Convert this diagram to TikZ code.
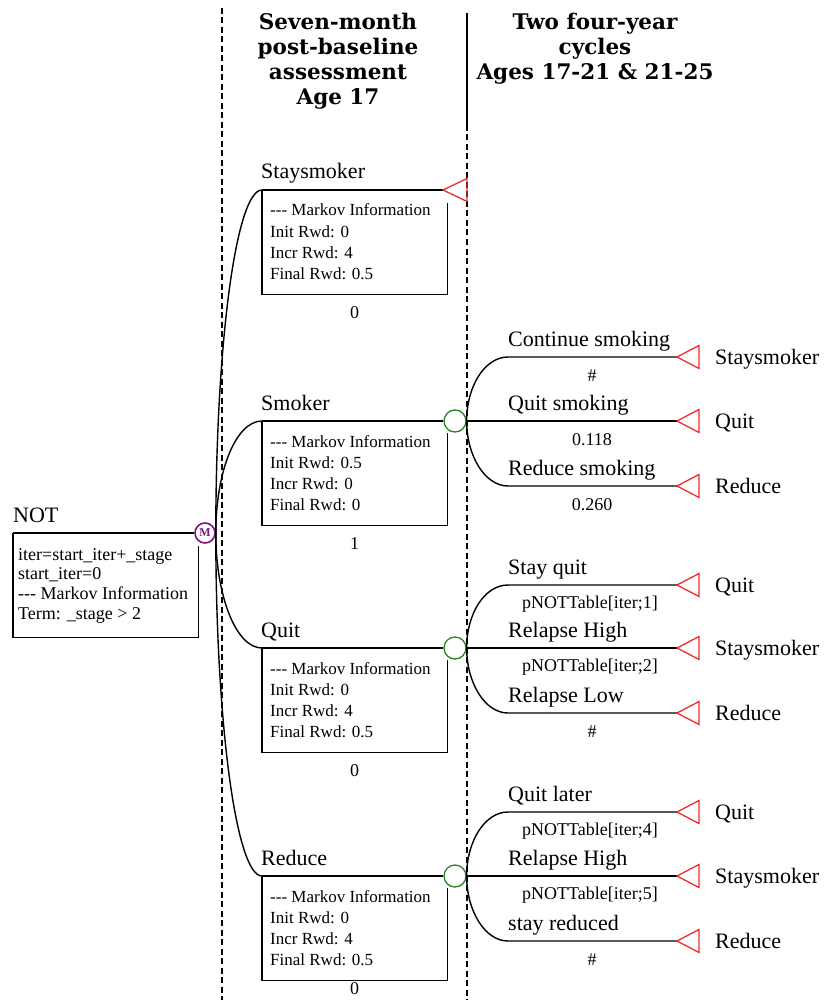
\documentclass[tikz,border=0pt]{standalone}
\usepackage{fontspec}
\setmainfont{Liberation Serif}
\newfontfamily\headserif{DejaVu Serif}
\usetikzlibrary{
positioning
}

\definecolor{markovpurple}{RGB}{125,20,130}
\definecolor{chancegreen}{RGB}{40,130,40}
\definecolor{termred}{RGB}{235,45,45}

\newcommand\hdrfont{\headserif\bfseries\fontsize{21.5}{24.7}\selectfont}
\newcommand\lblfont{\fontsize{22}{26}\selectfont}
\newcommand\infofont{\fontsize{17}{21.3}\selectfont}
\newcommand\notfont{\fontsize{18}{19.8}\selectfont}
\newcommand\probfont{\fontsize{18}{21}\selectfont}
\newcommand\tripledash{-{}-{}-}

\begin{document}
\begin{tikzpicture}[
    x=1pt, y=-1pt,
    branch/.style={draw, line width=1.4pt},
    divider/.style={draw, line width=1.2pt, dash pattern=on 6pt off 3.5pt},
    head/.style={font=\hdrfont, anchor=base, inner sep=0},
    lbl/.style={font=\lblfont, anchor=base west, inner sep=0},
    info/.style={font=\infofont, anchor=base west, inner sep=0},
    prob/.style={font=\probfont, inner sep=0},
    mbox/.style={minimum width=185pt, minimum height=104pt, anchor=north west, inner sep=0},
    markov/.style={draw=markovpurple, circle, minimum size=20pt, inner sep=0,
      line width=1.6pt, fill=white, text=markovpurple, font=\fontsize{12}{12}\selectfont\bfseries},
    chance/.style={draw=chancegreen, circle, minimum size=22pt, inner sep=0,
      line width=1.3pt, fill=white},
    term/.style={draw=termred, line width=1.3pt}]
  \useasboundingbox (0,0) rectangle (835,1000);

  % column headers and dividers
  \node[head] (H1) at (338,30) {\begin{tabular}[t]{@{}c@{}}Seven-month\\post-baseline\\assessment\\Age 17\end{tabular}};
  \node[head] (H2) at (595,30) {\begin{tabular}[t]{@{}c@{}}Two four-year\\cycles\\Ages 17-21 \& 21-25\end{tabular}};
  \draw[divider] (222,8) -- (222,1000);
  \draw[branch, line width=1.2pt] (467,13) -- (467,125);
  \draw[divider] (467,125) -- (467,1000);

  % root
  \node[markov] (M) at (205,533) {M};
  \coordinate (N0) at (13,533);
  \node[lbl] (NOT) at (13,522) {NOT};
  \node[mbox] (B0) at (N0) {};
  \draw[branch] (N0) |- (B0.south east) -- ([yshift=-13pt]B0.north east);
  \draw[branch] (N0) -- (M);
  \node[info, font=\notfont] (I0) at (18,560) {\begin{tabular}[t]{@{}l@{}}iter=start\_iter+\_stage\\start\_iter=0\\ \tripledash{} Markov Information\\Term: \_stage > 2\end{tabular}};

  % markov states
  \coordinate (b1) at (262,190);
  \coordinate (b2) at (262,421);
  \coordinate (b3) at (262,648);
  \coordinate (b4) at (262,876);
  \draw[branch] (M.east) .. controls +(0,-189) and +(-26,0) .. (b1);
  \draw[branch] (M.east) .. controls +(0,-62) and +(-26,0) .. (b2);
  \draw[branch] (M.east) .. controls +(0,63) and +(-26,0) .. (b3);
  \draw[branch] (M.east) .. controls +(0,189) and +(-26,0) .. (b4);

  \node[mbox] (B1) at (b1) {};
  \node[mbox] (B2) at (b2) {};
  \node[mbox] (B3) at (b3) {};
  \node[mbox] (B4) at (b4) {};
  \draw[branch] (b1) |- (B1.south east) -- ([yshift=-13pt]B1.north east);
  \draw[branch] (b2) |- (B2.south east) -- ([yshift=-12pt]B2.north east);
  \draw[branch] (b3) |- (B3.south east) -- ([yshift=-12pt]B3.north east);
  \draw[branch] (b4) |- (B4.south east) -- ([yshift=-12pt]B4.north east);

  \node[lbl] (L1) at ([xshift=-1pt, yshift=11pt]b1) {Staysmoker};
  \node[lbl] (L2) at ([xshift=-1pt, yshift=11pt]b2) {Smoker};
  \node[lbl] (L3) at ([xshift=-1pt, yshift=11pt]b3) {Quit};
  \node[lbl] (L4) at ([xshift=-1pt, yshift=11pt]b4) {Reduce};

  \node[info] (I1) at ([xshift=8pt, yshift=-26pt]b1) {\begin{tabular}[t]{@{}l@{}}\tripledash{} Markov Information\\Init Rwd: 0\\Incr Rwd: 4\\Final Rwd: 0.5\end{tabular}};
  \node[info] (I2) at ([xshift=8pt, yshift=-26pt]b2) {\begin{tabular}[t]{@{}l@{}}\tripledash{} Markov Information\\Init Rwd: 0.5\\Incr Rwd: 0\\Final Rwd: 0\end{tabular}};
  \node[info] (I3) at ([xshift=8pt, yshift=-26pt]b3) {\begin{tabular}[t]{@{}l@{}}\tripledash{} Markov Information\\Init Rwd: 0\\Incr Rwd: 4\\Final Rwd: 0.5\end{tabular}};
  \node[info] (I4) at ([xshift=8pt, yshift=-26pt]b4) {\begin{tabular}[t]{@{}l@{}}\tripledash{} Markov Information\\Init Rwd: 0\\Incr Rwd: 4\\Final Rwd: 0.5\end{tabular}};

  \node[prob, below=12pt of B1] (V1) {0};
  \node[prob, below=12pt of B2] (V2) {1};
  \node[prob, below=12pt of B3] (V3) {0};
  \node[prob, below=2pt of B4] (V4) {0};

  % staysmoker ends here
  \coordinate (T1) at (443,190);
  \draw[branch] (b1) -- (T1);
  \draw[term] (T1) -- ++(24,-11.5) -- ++(0,23) -- cycle;

  % chance nodes
  \node[chance] (C2) at (455,421) {};
  \node[chance] (C3) at (455,648) {};
  \node[chance] (C4) at (455,876) {};
  \draw[branch] (b2) -- (C2);
  \draw[branch] (b3) -- (C3);
  \draw[branch] (b4) -- (C4);

  \coordinate (c21) at (508,357);
  \coordinate (c23) at (508,486);
  \coordinate (c31) at (508,585);
  \coordinate (c33) at (508,713);
  \coordinate (c41) at (508,812);
  \coordinate (c43) at (508,941);
  \coordinate (T21) at (677,357);
  \coordinate (T22) at (677,421);
  \coordinate (T23) at (677,486);
  \coordinate (T31) at (677,585);
  \coordinate (T32) at (677,648);
  \coordinate (T33) at (677,713);
  \coordinate (T41) at (677,812);
  \coordinate (T42) at (677,876);
  \coordinate (T43) at (677,941);

  \draw[branch] (C2.east) .. controls +(0,-35) and +(-23,0) .. (c21) -- (T21);
  \draw[branch] (C2) -- (T22);
  \draw[branch] (C2.east) .. controls +(0,35) and +(-23,0) .. (c23) -- (T23);
  \draw[branch] (C3.east) .. controls +(0,-35) and +(-23,0) .. (c31) -- (T31);
  \draw[branch] (C3) -- (T32);
  \draw[branch] (C3.east) .. controls +(0,35) and +(-23,0) .. (c33) -- (T33);
  \draw[branch] (C4.east) .. controls +(0,-35) and +(-23,0) .. (c41) -- (T41);
  \draw[branch] (C4) -- (T42);
  \draw[branch] (C4.east) .. controls +(0,35) and +(-23,0) .. (c43) -- (T43);

  \draw[term] (T21) -- ++(22,-11.5) -- ++(0,23) -- cycle;
  \draw[term] (T22) -- ++(22,-11.5) -- ++(0,23) -- cycle;
  \draw[term] (T23) -- ++(22,-11.5) -- ++(0,23) -- cycle;
  \draw[term] (T31) -- ++(22,-11.5) -- ++(0,23) -- cycle;
  \draw[term] (T32) -- ++(22,-11.5) -- ++(0,23) -- cycle;
  \draw[term] (T33) -- ++(22,-11.5) -- ++(0,23) -- cycle;
  \draw[term] (T41) -- ++(22,-11.5) -- ++(0,23) -- cycle;
  \draw[term] (T42) -- ++(22,-11.5) -- ++(0,23) -- cycle;
  \draw[term] (T43) -- ++(22,-11.5) -- ++(0,23) -- cycle;

  % branch labels
  \node[lbl] (L21) at ([yshift=11pt]c21) {Continue smoking};
  \node[lbl] (L22) at (508,410) {Quit smoking};
  \node[lbl] (L23) at ([yshift=11pt]c23) {Reduce smoking};
  \node[lbl] (L31) at ([yshift=11pt]c31) {Stay quit};
  \node[lbl] (L32) at (508,637) {Relapse High};
  \node[lbl] (L33) at ([yshift=11pt]c33) {Relapse Low};
  \node[lbl] (L41) at ([yshift=11pt]c41) {Quit later};
  \node[lbl] (L42) at (508,865) {Relapse High};
  \node[lbl] (L43) at ([yshift=11pt]c43) {stay reduced};

  \node[prob] (P21) at (592,376) {\#};
  \node[prob] (P22) at (592,440) {0.118};
  \node[prob] (P23) at (592,505) {0.260};
  \node[prob] (P31) at (590,604) {pNOTTable[iter;1]};
  \node[prob] (P32) at (590,667) {pNOTTable[iter;2]};
  \node[prob] (P33) at (592,732) {\#};
  \node[prob] (P41) at (590,831) {pNOTTable[iter;4]};
  \node[prob] (P42) at (590,895) {pNOTTable[iter;5]};
  \node[prob] (P43) at (592,960) {\#};

  % terminal states
  \node[lbl] (E21) at ([xshift=38pt, yshift=-7pt]T21) {Staysmoker};
  \node[lbl] (E22) at ([xshift=38pt, yshift=-7pt]T22) {Quit};
  \node[lbl] (E23) at ([xshift=38pt, yshift=-7pt]T23) {Reduce};
  \node[lbl] (E31) at ([xshift=38pt, yshift=-7pt]T31) {Quit};
  \node[lbl] (E32) at ([xshift=38pt, yshift=-7pt]T32) {Staysmoker};
  \node[lbl] (E33) at ([xshift=38pt, yshift=-7pt]T33) {Reduce};
  \node[lbl] (E41) at ([xshift=38pt, yshift=-7pt]T41) {Quit};
  \node[lbl] (E42) at ([xshift=38pt, yshift=-7pt]T42) {Staysmoker};
  \node[lbl] (E43) at ([xshift=38pt, yshift=-7pt]T43) {Reduce};
\end{tikzpicture}
\end{document}
